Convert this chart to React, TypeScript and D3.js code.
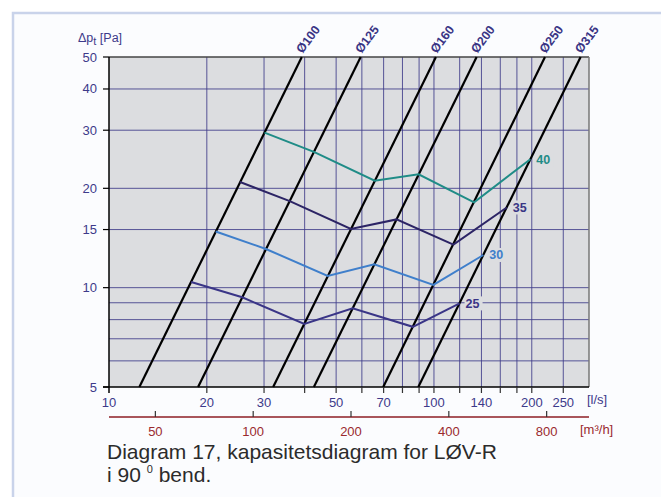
import React from "react";
import * as d3 from "d3";

// ---- data ----
const gridX = [20, 30, 40, 50, 60, 70, 80, 90, 100, 120, 140, 160, 180, 200, 250];
const gridY = [6, 7, 8, 9, 10, 15, 20, 30, 40];
const xTickLabels = [10, 20, 30, 50, 70, 100, 140, 200, 250];
const yTickLabels = [5, 10, 15, 20, 30, 40, 50];
const m3hTicks = [50, 100, 200, 400, 800];

const ductNames = ["Ø100", "Ø125", "Ø160", "Ø200", "Ø250", "Ø315"];
const ductQAt5 = [12.4, 18.8, 32.0, 42.7, 69.8, 89.5];
const ductQAt50 = [39.2, 59.5, 101.4, 135.3, 219.6, 282.7];

const seriesNames = ["25", "30", "35", "40"];
const q25 = [17.9, 25.7, 39.9, 56.2, 86.1, 119.9];
const p25 = [10.4, 9.35, 7.76, 8.66, 7.61, 8.96];
const q30 = [21.3, 30.4, 47.1, 65.5, 99.6, 141.9];
const p30 = [14.8, 13.1, 10.85, 11.77, 10.19, 12.56];
const q35 = [25.3, 36.0, 55.5, 76.7, 114.8, 167.5];
const p35 = [20.9, 18.3, 15.06, 16.1, 13.5, 17.5];
const q40 = [30.1, 42.7, 65.7, 89.7, 132.9, 198];
const p40 = [29.5, 25.8, 21.1, 22.05, 18.14, 24.5];

const seriesQ = [q25, q30, q35, q40];
const seriesP = [p25, p30, p35, p40];
const seriesColors = ["#3a3587", "#3f7fcb", "#2c2465", "#1f8c87"];
const labelColors = ["#3a3587", "#3f7fcb", "#3a3685", "#1f8c87"];

// ---- layout ----
const W = 661, H = 497;
const L = 109, R = 589, T = 57, B = 387;
const navy = "#3d3a8a";
const gridColor = "#3f3c8a";
const font = "'Liberation Sans', Arial, Helvetica, sans-serif";

export default function App() {
  const x = d3.scaleLog().domain([10, 300]).range([L, R]);
  const y = d3.scaleLog().domain([5, 50]).range([B, T]);
  const xm = d3.scaleLog().domain([36, 1080]).range([L, R]);
  const line = d3
    .line<[number, number]>()
    .x((d) => x(d[0]))
    .y((d) => y(d[1]));
  const redY = 417;

  return (
    <svg
      width={W}
      height={H}
      style={{ position: "absolute", left: 0, top: 0, background: "#fff" }}
      fontFamily={font}
    >
      {/* outer panel */}
      <rect x={13} y={13} width={700} height={600} fill="#fbfcfe" stroke="#c9d3ea" strokeWidth={2.5} />

      {/* plot background */}
      <rect x={L} y={T} width={R - L} height={B - T} fill="#dcdde0" />

      {/* grid */}
      {gridX.map((v) => (
        <line key={"gx" + v} x1={x(v)} x2={x(v)} y1={T} y2={B} stroke={gridColor} strokeWidth={1} opacity={0.85} />
      ))}
      {gridY.map((v) => (
        <line key={"gy" + v} x1={L} x2={R} y1={y(v)} y2={y(v)} stroke={gridColor} strokeWidth={1} opacity={0.85} />
      ))}

      {/* borders */}
      <line x1={L} x2={R} y1={T} y2={T} stroke="#444" strokeWidth={1.5} />
      <line x1={R} x2={R} y1={T} y2={B} stroke="#777" strokeWidth={1.5} />

      {/* duct lines */}
      {ductNames.map((n, i) => (
        <line
          key={n}
          x1={x(ductQAt5[i])}
          y1={y(5)}
          x2={x(ductQAt50[i])}
          y2={y(50)}
          stroke="#000"
          strokeWidth={2.2}
        />
      ))}

      {/* series */}
      {seriesNames.map((n, i) => {
        const pts = seriesQ[i].map((q, j) => [q, seriesP[i][j]] as [number, number]);
        return (
          <path key={"s" + n} d={line(pts) || ""} fill="none" stroke={seriesColors[i]} strokeWidth={2} strokeLinejoin="miter" />
        );
      })}
      {seriesNames.map((n, i) => {
        const qs = seriesQ[i];
        const ps = seriesP[i];
        const ex = x(qs[qs.length - 1]);
        const ey = y(ps[ps.length - 1]);
        return (
          <g key={"l" + n}>
            <rect x={ex + 5} y={ey - 7} width={18} height={14} fill="#dcdde0" />
            <text x={ex + 6} y={ey + 1} dominantBaseline="middle" fontSize={12.5} fontWeight="bold" fill={labelColors[i]}>
              {n}
            </text>
          </g>
        );
      })}

      {/* duct labels */}
      {ductNames.map((n, i) => {
        const tx = x(ductQAt50[i]) + 0.5;
        const ty = T - 3;
        return (
          <text
            key={"dl" + n}
            x={tx}
            y={ty}
            transform={`rotate(-53 ${tx} ${ty})`}
            fontSize={12.5}
            fontWeight="bold"
            fill="#3a3585"
          >
            {n}
          </text>
        );
      })}

      {/* axes */}
      <line x1={L} x2={L} y1={T} y2={B + 6} stroke="#000" strokeWidth={1.5} />
      <line x1={L - 6} x2={R} y1={B} y2={B} stroke="#000" strokeWidth={1.5} />
      {yTickLabels.map((v) => (
        <g key={"yt" + v}>
          <line x1={L - 6} x2={L} y1={y(v)} y2={y(v)} stroke="#000" strokeWidth={1.2} />
          <text x={L - 12} y={y(v)} dominantBaseline="central" textAnchor="end" fontSize={13} fill={navy}>
            {v}
          </text>
        </g>
      ))}
      {gridX.map((v) => (
        <line key={"xt" + v} x1={x(v)} x2={x(v)} y1={B} y2={B + 6} stroke="#333" strokeWidth={1.2} />
      ))}
      {xTickLabels.map((v) => (
        <text key={"xl" + v} x={x(v)} y={407} textAnchor="middle" fontSize={13} fill={navy}>
          {v}
        </text>
      ))}
      <text x={587} y={404} fontSize={13} fill={navy}>
        [l/s]
      </text>

      {/* y title */}
      <text x={78} y={42} fontSize={12.5} fill={navy}>
        Δp
        <tspan fontSize={11} dy={3}>t</tspan>
        <tspan dy={-3}> [Pa]</tspan>
      </text>

      {/* m3/h axis */}
      <line x1={L} x2={R} y1={redY} y2={redY} stroke="#8e1f24" strokeWidth={1.5} />
      {m3hTicks.map((v) => (
        <g key={"m" + v}>
          <line x1={xm(v)} x2={xm(v)} y1={redY - 6} y2={redY} stroke="#333" strokeWidth={1.2} />
          <text x={xm(v)} y={436} textAnchor="middle" fontSize={13} fill="#9a2a2e">
            {v}
          </text>
        </g>
      ))}
      <text x={580} y={434} fontSize={13} fill="#9a2a2e">
        [m³/h]
      </text>

      {/* caption */}
      <text x={107} y={459} fontSize={21} fill="#2b2b2b">
        Diagram 17, kapasitetsdiagram for LØV-R
      </text>
      <text x={107} y={482} fontSize={21} fill="#2b2b2b">
        i 90 <tspan fontSize={11} dy={-9}>0</tspan>
        <tspan dy={9}> bend.</tspan>
      </text>
    </svg>
  );
}
